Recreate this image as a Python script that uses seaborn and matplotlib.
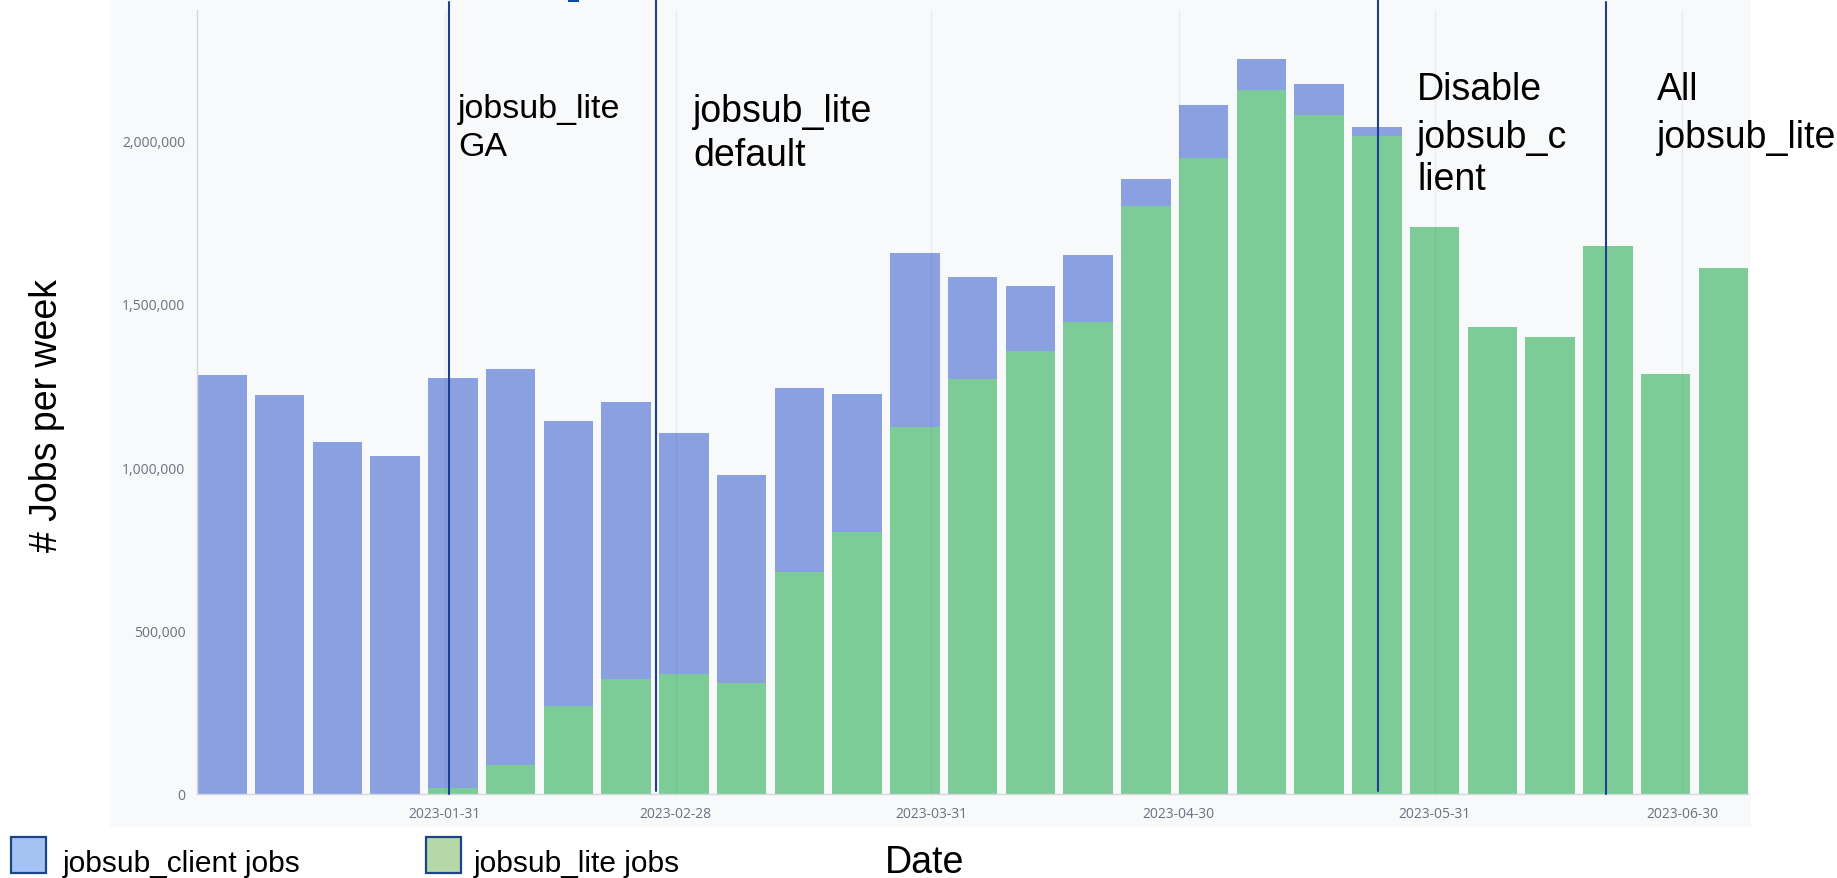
import numpy as np
import pandas as pd
import matplotlib
matplotlib.use("Agg")
import matplotlib.pyplot as plt
import matplotlib.dates as mdates
import matplotlib.transforms as mtransforms
from matplotlib.patches import Rectangle
import seaborn as sns

# ---------------- data ----------------
week_dates = ["2023-01-04", "2023-01-11", "2023-01-18", "2023-01-25",
              "2023-02-01", "2023-02-08", "2023-02-15", "2023-02-22",
              "2023-03-01", "2023-03-08", "2023-03-15", "2023-03-22",
              "2023-03-29", "2023-04-05", "2023-04-12", "2023-04-19",
              "2023-04-26", "2023-05-03", "2023-05-10", "2023-05-17",
              "2023-05-24", "2023-05-31", "2023-06-07", "2023-06-14",
              "2023-06-21", "2023-06-28", "2023-07-05"]
client_jobs = [1283000, 1222000, 1079000, 1036000, 1254000, 1211000, 874000,
               850000, 738000, 638000, 563000, 423000, 531000, 315000,
               201000, 205000, 83000, 162000, 97000, 93000, 29000,
               0, 0, 0, 0, 0, 0]
lite_jobs = [0, 0, 0, 0, 18000, 90000, 269000, 351000, 366000, 340000,
             681000, 803000, 1125000, 1269000, 1355000, 1444000, 1799000,
             1946000, 2154000, 2079000, 2014000, 1735000, 1430000, 1398000,
             1677000, 1287000, 1609000]
x_tick_dates = ["2023-01-31", "2023-02-28", "2023-03-31", "2023-04-30",
                "2023-05-31", "2023-06-30"]
x_tick_labels = ["2023-01-31", "2023-02-28", "2023-03-31", "2023-04-30",
                 "2023-05-31", "2023-06-30"]
y_tick_values = [0, 500000, 1000000, 1500000, 2000000]
event_dates = ["2023-01-31 13:00", "2023-02-25 15:00",
               "2023-05-24 04:00", "2023-06-20 19:00"]
event_labels = [["jobsub_lite", "GA"],
                ["jobsub_lite", "default"],
                ["Disable", "jobsub_c", "lient"],
                ["All", "jobsub_lite"]]
legend_labels = ["jobsub_client jobs", "jobsub_lite jobs"]

# ---------------- style ----------------
W, H = 1837, 879
BLUE = "#8AA0E0"
GREEN = "#7DCC98"
PANEL = "#F8F9FB"
AXIS_GRAY = "#D3D8E0"
TICK_TXT = "#69707D"
NAVY = "#1C3F94"

sns.set_style("white")
plt.rcParams["font.family"] = ["Open Sans", "DejaVu Sans"]

fig = plt.figure(figsize=(W / 100, H / 100), dpi=100)
fig.patch.set_facecolor("white")


def fx(px):
    return px / W


def fy(py):
    return 1 - py / H


# gray dashboard panel (behind the axes)
fig.add_artist(Rectangle((fx(110), fy(828)), fx(1751) - fx(110), fy(0) - fy(828),
                         transform=fig.transFigure, facecolor=PANEL,
                         edgecolor="none", zorder=-10))
# bit of cropped title
fig.add_artist(Rectangle((fx(568), fy(3)), fx(11), fy(0) - fy(3),
                         transform=fig.transFigure, facecolor="#0B4EA2",
                         edgecolor="none", zorder=-5))

ax = fig.add_axes([197 / W, 84 / H, 1551 / W, 784 / H])
ax.set_facecolor("none")
ax.set_zorder(1)

xnum = mdates.date2num(pd.to_datetime(week_dates))
total = np.array(client_jobs) + np.array(lite_jobs)
df = pd.DataFrame({"x": xnum, "total": total, "lite": lite_jobs})

sns.barplot(data=df, x="x", y="total", native_scale=True, orient="x",
            width=6 / 7, color=BLUE, saturation=1, errorbar=None,
            linewidth=0, ax=ax)
sns.barplot(data=df, x="x", y="lite", native_scale=True, orient="x",
            width=6 / 7, color=GREEN, saturation=1, errorbar=None,
            linewidth=0, ax=ax)

ax.set_xlim(mdates.date2num(pd.Timestamp("2023-01-01")),
            mdates.date2num(pd.Timestamp("2023-07-08")))
ax.set_ylim(0, 2400000)
ax.set_xlabel("")
ax.set_ylabel("")

ax.set_xticks(mdates.date2num(pd.to_datetime(x_tick_dates)))
ax.set_xticklabels(x_tick_labels)
ax.set_yticks(y_tick_values)
ax.set_yticklabels([f"{v:,}" for v in y_tick_values])

for s in ["top", "right"]:
    ax.spines[s].set_visible(False)
for s in ["left", "bottom"]:
    ax.spines[s].set_color(AXIS_GRAY)
    ax.spines[s].set_linewidth(1)

ax.tick_params(axis="both", length=6, width=1, color=AXIS_GRAY,
               labelcolor=TICK_TXT, labelsize=10, pad=2.5)
ax.set_axisbelow(False)
ax.grid(axis="x", color="black", alpha=0.05, linewidth=1)
ax.grid(axis="y", visible=False)

# event lines
event_num = mdates.date2num(pd.to_datetime(event_dates))
tops = [1.010, 1.016, 1.016, 1.010]
bottoms = [0.0, 0.004, 0.004, 0.0]
for xv, t, b in zip(event_num, tops, bottoms):
    ax.axvline(xv, ymin=b, ymax=t, color=NAVY, linewidth=1.5, clip_on=False,
               zorder=4)

# event annotations
blend = mtransforms.blended_transform_factory(ax.transData, fig.transFigure)
text_dx = [9, 37, 39, 51]
text_sizes = [24.5, 27, 27, 27]
text_baselines = [[118, 156], [122, 166], [100, 148, 190], [100, 148]]
for xv, lines, dx, sz, bls in zip(event_num, event_labels, text_dx,
                                  text_sizes, text_baselines):
    tr = mtransforms.offset_copy(blend, fig=fig, x=dx, y=0, units="dots")
    for line, bl in zip(lines, bls):
        ax.text(xv, fy(bl), line, transform=tr, ha="left", va="baseline",
                fontsize=sz, family="Liberation Sans", color="black",
                clip_on=False, zorder=5)

# axis titles (slide text)
fig.text(fx(47), fy(416), "# Jobs per week", rotation=90, ha="center",
         va="center", fontsize=27, family="Liberation Sans", color="black")
fig.text(fx(885), fy(873), "Date", ha="left", va="baseline", fontsize=27,
         family="Liberation Sans", color="black")

# slide legend
leg_sq_x = [11, 426]
leg_txt_x = [63, 474]
leg_cols = ["#A4C2F4", "#B6D7A8"]
for sx, tx, col, lab in zip(leg_sq_x, leg_txt_x, leg_cols, legend_labels):
    fig.add_artist(Rectangle((fx(sx), fy(874)), fx(35), fy(838) - fy(874),
                             transform=fig.transFigure, facecolor=col,
                             edgecolor="#1C4587", linewidth=1.6, zorder=3))
    fig.text(fx(tx), fy(872), lab, ha="left", va="baseline", fontsize=21.5,
             family="Liberation Sans", color="black")

fig.savefig("out.png", dpi=100, facecolor="white")
